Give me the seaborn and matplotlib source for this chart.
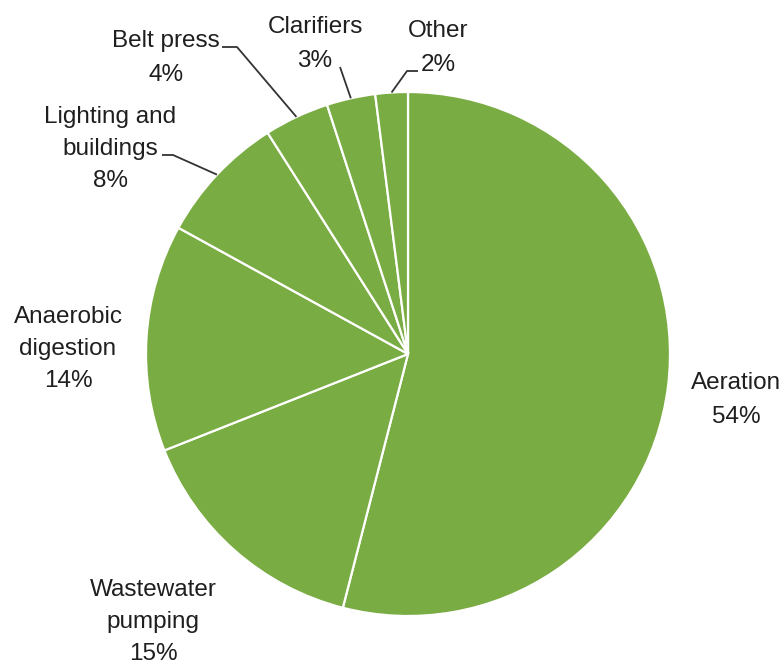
import matplotlib
matplotlib.use("Agg")
import matplotlib.pyplot as plt
import seaborn as sns
import numpy as np
from matplotlib import font_manager

# Data
categories = ["Aeration", "Wastewater\npumping", "Anaerobic\ndigestion",
              "Lighting and\nbuildings", "Belt press", "Clarifiers", "Other"]
shares = [54, 15, 14, 8, 4, 3, 2]

# Layout (pixel coordinates, y from top): label centre x, first baseline y
label_pos = [(736, 389), (153, 596), (68, 323), (110, 123), (166, 47), (315, 33), (438, 37)]
# leader lines from the text side to the bend (None = no leader); last point is the wedge
leader_pts = [None, None, None,
              [(162, 155), (173, 155)],
              [(222, 47), (237, 47)],
              [(340, 67)],
              [(418, 71), (407, 71)]]

W, H = 783, 666
CX, CY, R = 408, 354, 262
GREEN = "#79ac42"
TEXT = "#1f1f1f"

sns.set_theme(style="white")
names = {f.name for f in font_manager.fontManager.ttflist}
narrow = [f for f in ["Liberation Sans Narrow", "Arial Narrow"] if f in names]
fam = narrow + [f for f in ["Liberation Sans", "DejaVu Sans"] if f in names]
plt.rcParams["font.family"] = fam
fsize = 21 if narrow else 17.5

fig = plt.figure(figsize=(W / 100, H / 100), dpi=100)
ax = fig.add_axes([0, 0, 1, 1])

wedges, _ = ax.pie(shares, startangle=90, counterclock=False,
                   colors=[GREEN] * len(shares), radius=R, center=(CX, H - CY),
                   wedgeprops=dict(edgecolor="white", linewidth=1.6))
ax.set_xlim(0, W)
ax.set_ylim(0, H)
ax.set_aspect("equal")
ax.axis("off")

for name, pct, (lx, ly), w, pts in zip(categories, shares, label_pos, wedges, leader_pts):
    lines = name.split("\n") + [f"{pct}%"]
    step = 34 if len(lines) == 2 else 32
    for i, line in enumerate(lines):
        ax.text(lx, H - (ly + i * step), line, ha="center", va="baseline",
                fontsize=fsize, color=TEXT)
    if pts is not None:
        mid = np.deg2rad((w.theta1 + w.theta2) / 2)
        ex = CX + R * np.cos(mid)
        ey = (H - CY) + R * np.sin(mid)
        xs = [p[0] for p in pts] + [ex]
        ys = [H - p[1] for p in pts] + [ey]
        ax.plot(xs, ys, color="#333333", lw=1.3, solid_capstyle="butt")

fig.savefig("out.png", dpi=100)
